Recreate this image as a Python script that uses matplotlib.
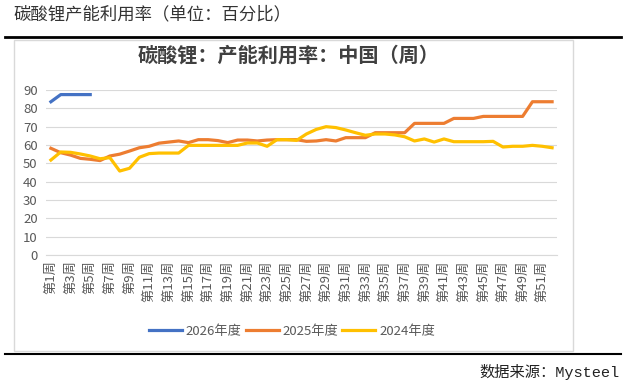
import matplotlib
matplotlib.use("Agg")
import matplotlib.pyplot as plt
from matplotlib.patches import Rectangle
from matplotlib.lines import Line2D
import numpy as np

plt.rcParams['font.family'] = ['Noto Sans CJK SC', 'DejaVu Sans']

# weekly capacity utilisation (%)
weeks = np.arange(1, 53)
y2026 = [83.6, 87.5, 87.5, 87.5, 87.5]
y2025 = [58.2, 55.8, 54.5, 52.7, 52.2, 51.5, 54.0, 55.0, 56.7, 58.5,
         59.3, 61.0, 61.6, 62.2, 61.3, 62.9, 62.9, 62.4, 61.3, 62.7,
         62.7, 62.2, 62.7, 62.9, 62.9, 62.9, 62.0, 62.2, 62.9, 62.2,
         64.0, 64.0, 64.0, 66.7, 66.7, 66.7, 66.7, 71.8, 71.8, 71.8,
         71.8, 74.5, 74.5, 74.5, 75.6, 75.6, 75.6, 75.6, 75.6, 83.6,
         83.6, 83.6]
y2024 = [51.8, 56.2, 56.0, 55.1, 54.0, 52.5, 53.1, 45.8, 47.3, 53.3,
         55.3, 55.6, 55.6, 55.6, 59.8, 59.8, 59.8, 59.8, 59.8, 59.8,
         61.1, 61.1, 59.3, 62.9, 62.9, 62.5, 66.0, 68.5, 70.0, 69.5,
         68.2, 66.7, 65.3, 66.0, 66.0, 65.5, 64.5, 62.2, 63.3, 61.6,
         63.3, 61.8, 61.8, 61.8, 61.8, 62.0, 58.9, 59.3, 59.3, 59.8,
         59.3, 58.5]
series_names = ['2026年度', '2025年度', '2024年度']
colors = ['#4472C4', '#ED7D31', '#FFC000']
tick_weeks = list(range(1, 53, 2))
tick_labels = ['第%d周' % w for w in tick_weeks]

W, H = 626, 391
fig = plt.figure(figsize=(W / 100, H / 100), dpi=100)

# page decorations
fig.text(13 / W, 1 - 14 / H, '碳酸锂产能利用率（单位：百分比）', fontsize=12.5,
         color='#333333', va='center', ha='left')
fig.add_artist(Line2D([5 / W, 621 / W], [1 - 37 / H, 1 - 37 / H], color='black', lw=2))
fig.add_artist(Rectangle((14 / W, 1 - 351 / H), (573 - 14) / W, (351 - 40) / H,
                         facecolor='white', edgecolor='#d9d9d9', lw=1, zorder=-5))
fig.add_artist(Line2D([5 / W, 621 / W], [1 - 354 / H, 1 - 354 / H], color='black', lw=1.5))
fig.text(620 / W, 1 - 372 / H, '数据来源：Mysteel', fontsize=11,
         family=['Liberation Mono', 'Noto Sans CJK SC'], color='#222222',
         va='center', ha='right')

fig.text(289 / W, 1 - 55 / H, '碳酸锂：产能利用率：中国（周）', fontsize=14.5,
         fontweight='bold', color='#404040', ha='center', va='center')

ax = fig.add_axes([46 / W, 1 - 255 / H, (557 - 46) / W, (255 - 90) / H])
ax.set_zorder(2)
ax.patch.set_visible(False)
ax.plot(weeks[:len(y2026)], y2026, color=colors[0], lw=2.3, label=series_names[0])
ax.plot(weeks, y2025, color=colors[1], lw=2.3, label=series_names[1])
ax.plot(weeks, y2024, color=colors[2], lw=2.3, label=series_names[2])

ax.set_xlim(0.5, 52.5)
ax.set_ylim(0, 90)
ax.set_yticks(np.arange(0, 91, 10))
ax.set_xticks(tick_weeks)
ax.set_xticklabels(tick_labels, rotation=90, fontsize=9.5, color='#595959')
ax.tick_params(axis='y', labelsize=9.5, labelcolor='#595959', length=0, pad=6)
ax.tick_params(axis='x', length=0, pad=4)
ax.grid(axis='y', color='#d9d9d9', lw=0.8)
ax.set_axisbelow(True)
for s in ['top', 'right', 'left']:
    ax.spines[s].set_visible(False)
ax.spines['bottom'].set_color('#d9d9d9')

fig.legend(loc='center', bbox_to_anchor=(292 / W, 1 - 331 / H), ncol=3, frameon=False,
           fontsize=9.5, handlelength=2.5, columnspacing=0.3, handletextpad=0.3,
           labelcolor='#595959')

fig.savefig('out.png', dpi=100)
